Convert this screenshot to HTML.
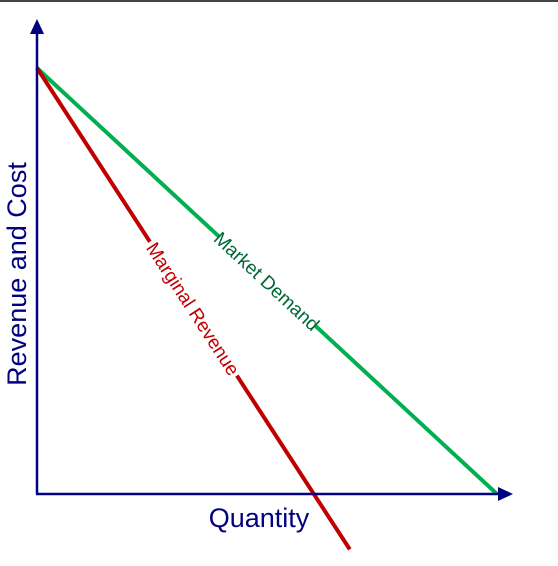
<!DOCTYPE html>
<html><head><meta charset="utf-8"><style>
body{margin:0;background:#fff;width:558px;height:561px;overflow:hidden;font-family:"Liberation Sans",sans-serif}
</style></head><body>
<svg id="chart" width="558" height="561" xmlns="http://www.w3.org/2000/svg">
<rect x="0" y="0" width="558" height="2" fill="#444"/>
</svg>
<script>
const qDemand=[0,100];
const pDemand=[100,0];
const qMR=[0,68];
const pMR=[100,-13];
const labels=["Market Demand","Marginal Revenue"];
const NS="http://www.w3.org/2000/svg";
const svg=document.getElementById('chart');
const X=q=>37+q*4.6, Y=p=>494-p*4.26;
function mk(t,a){const e=document.createElementNS(NS,t);for(const k in a)e.setAttribute(k,a[k]);svg.appendChild(e);return e;}
function series(qs,ps,color,tcolor,label,t,name){
  const x1=X(qs[0]),y1=Y(ps[0]),x2=X(qs[1]),y2=Y(ps[1]);
  const l=mk('line',{x1,y1,x2,y2,stroke:color,'stroke-width':4});
  
  
  const cx=x1+(x2-x1)*t,cy=y1+(y2-y1)*t;
  const ang=Math.atan2(y2-y1,x2-x1)*180/Math.PI;
  const g=mk('g',{transform:`translate(${cx},${cy}) rotate(${ang})`});
  const w=label.length*9.6;
  const r=document.createElementNS(NS,'rect');
  r.setAttribute('x',-w/2-3);r.setAttribute('y',-6);r.setAttribute('width',w+6);r.setAttribute('height',12);r.setAttribute('fill','#fff');
  g.appendChild(r);
  const tx=document.createElementNS(NS,'text');
  tx.setAttribute('text-anchor','middle');tx.setAttribute('y',7);tx.setAttribute('font-size','19');tx.setAttribute('fill',tcolor);
  tx.textContent=label;
  
  
  g.appendChild(tx);
}
series(qDemand,pDemand,'#00b050','#006633',labels[0],0.5,'market-demand');
series(qMR,pMR,'#c00000','#c00000',labels[1],0.5,'marginal-revenue');
const ya=mk('line',{x1:37,y1:494,x2:37,y2:30,stroke:'#000080','stroke-width':2.5});

const yh=mk('polygon',{points:'37,19 30,34 44,34',fill:'#000080'});

const xa=mk('line',{x1:36,y1:494,x2:500,y2:494,stroke:'#000080','stroke-width':2.5});

const xh=mk('polygon',{points:'513,494 498,487 498,501',fill:'#000080'});

const xt=mk('text',{x:259,y:527,'text-anchor':'middle','font-size':27,fill:'#000080'});
xt.textContent='Quantity';

const yt=mk('text',{x:0,y:0,'text-anchor':'middle','font-size':27,fill:'#000080',transform:'translate(26,274) rotate(-90)'});
yt.textContent='Revenue and Cost';

</script>
</body></html>
